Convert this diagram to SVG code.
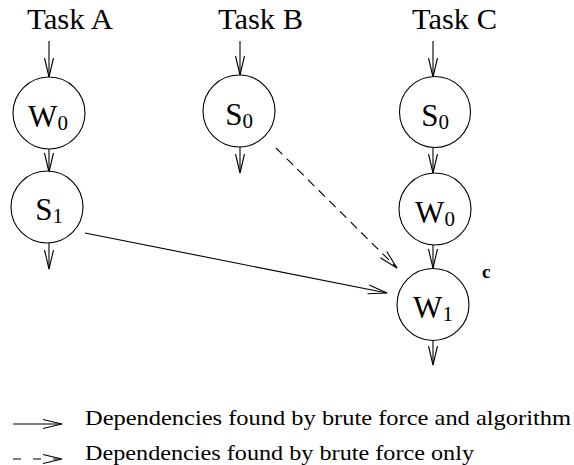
<svg xmlns="http://www.w3.org/2000/svg" width="574" height="465" viewBox="0 0 574 465">
<style>
text { font-family: "Liberation Serif", "DejaVu Serif", serif; fill: #000; }
.task { font-size: 29px; }
.lbl { font-size: 31px; text-anchor: middle; }
.sub { font-size: 21px; }
.leg { font-size: 22px; }
circle { fill: #fff; stroke: #000; stroke-width: 1.1; }
.e { stroke: #000; stroke-width: 1.1; fill: none; marker-end: url(#ah); }
.d { stroke-dasharray: 9 6; }
</style>
<defs>
<marker id="ah" markerUnits="userSpaceOnUse" markerWidth="22" markerHeight="12" refX="20" refY="6" orient="auto" overflow="visible">
<path d="M1,1.5 L20,6 L1,10.5" fill="none" stroke="#000" stroke-width="1.1"/>
</marker>
</defs>
<g id="labels">
<text class="task" x="27" y="29" textLength="86" lengthAdjust="spacingAndGlyphs">Task A</text>
<text class="task" x="218" y="29" textLength="85" lengthAdjust="spacingAndGlyphs">Task B</text>
<text class="task" x="412" y="29" textLength="85" lengthAdjust="spacingAndGlyphs">Task C</text>
<text x="482" y="278" style="font-size:19px;font-weight:bold">c</text>
</g>
<g id="connectors">
<line class="e" x1="49" y1="41" x2="49" y2="77"/>
<line class="e" x1="49" y1="149" x2="49" y2="172"/>
<line class="e" x1="49" y1="243" x2="49" y2="269"/>
<line class="e" x1="240" y1="41" x2="240" y2="75"/>
<line class="e" x1="240" y1="147" x2="240" y2="173"/>
<line class="e" x1="433" y1="41" x2="433" y2="77"/>
<line class="e" x1="433" y1="148" x2="433" y2="173"/>
<line class="e" x1="433" y1="245" x2="433" y2="268"/>
<line class="e" x1="433" y1="341" x2="433" y2="365"/>
<line class="e" x1="85" y1="233" x2="387" y2="293"/>
<line class="e d" x1="276" y1="148" x2="397" y2="268"/>
</g>
<g id="A_W0"><circle cx="49" cy="113" r="36"/><text class="lbl" x="48" y="127">W<tspan class="sub" dy="3">0</tspan></text></g>
<g id="A_S1"><circle cx="47" cy="207" r="36"/><text class="lbl" x="49" y="220">S<tspan class="sub" dy="3">1</tspan></text></g>
<g id="B_S0"><circle cx="239" cy="111" r="36"/><text class="lbl" x="239" y="125">S<tspan class="sub" dy="3">0</tspan></text></g>
<g id="C_S0"><circle cx="435" cy="112" r="35.5"/><text class="lbl" x="435" y="126">S<tspan class="sub" dy="3">0</tspan></text></g>
<g id="C_W0"><circle cx="435" cy="209" r="36"/><text class="lbl" x="435" y="223">W<tspan class="sub" dy="3">0</tspan></text></g>
<g id="C_W1"><circle cx="433" cy="304.5" r="36"/><text class="lbl" x="433" y="318">W<tspan class="sub" dy="3">1</tspan></text></g>
<g id="legend">
<line class="e" x1="13" y1="424" x2="62" y2="424"/>
<text class="leg" x="85" y="425" textLength="486" lengthAdjust="spacingAndGlyphs">Dependencies found by brute force and algorithm</text>
<line class="e" x1="13" y1="459" x2="62" y2="459" style="stroke-dasharray:8 12"/>
<text class="leg" x="85" y="460" textLength="389" lengthAdjust="spacingAndGlyphs">Dependencies found by brute force only</text>
</g>
</svg>
